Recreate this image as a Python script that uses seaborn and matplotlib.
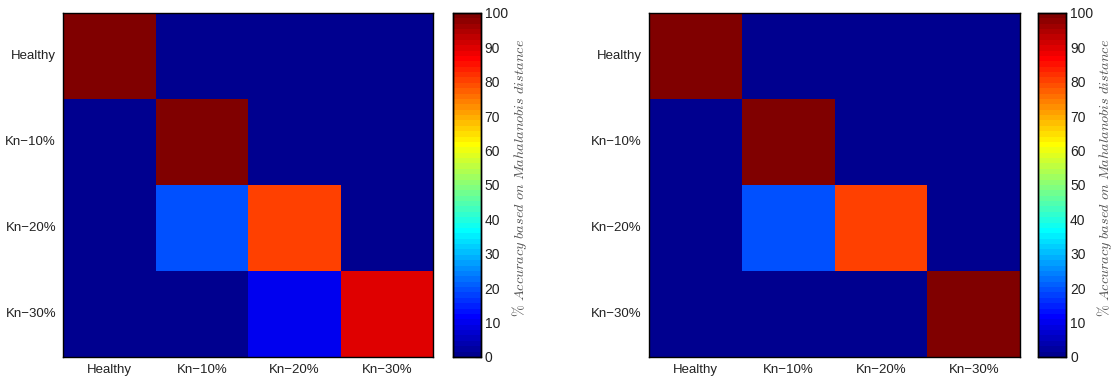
import numpy as np
import pandas as pd
import seaborn as sns
import matplotlib.pyplot as plt
from matplotlib.colors import ListedColormap

# Class labels and accuracy matrices (%)
classes = ['Healthy', 'Kn\u221210%', 'Kn\u221220%', 'Kn\u221230%']
left_acc = [[100, 0, 0, 0],
            [0, 100, 0, 0],
            [0, 20, 80, 0],
            [0, 0, 10, 90]]
right_acc = [[100, 0, 0, 0],
             [0, 100, 0, 0],
             [0, 20, 80, 0],
             [0, 0, 0, 100]]
cbar_ticks = list(range(0, 101, 10))


def matlab_jet(m=64):
    # same construction as MATLAB's jet(m)
    n = int(np.ceil(m / 4))
    u = np.concatenate([np.arange(1, n + 1) / n, np.ones(n - 1),
                        np.arange(n, 0, -1) / n])
    g = int(np.ceil(n / 2)) - (1 if m % 4 == 1 else 0) + np.arange(1, len(u) + 1)
    r = g + n
    b = g - n
    J = np.zeros((m, 3))
    for col, idx in enumerate([r, g, b]):
        ok = (idx >= 1) & (idx <= m)
        J[idx[ok] - 1, col] = u[ok]
    return ListedColormap(J)


sns.set_style('white')
plt.rcParams['font.family'] = ['Liberation Sans', 'DejaVu Sans']
plt.rcParams['mathtext.fontset'] = 'cm'

cmap = matlab_jet(64)
label = r'$\%\ Accuracy\ based\ on\ Mahalanobis\ distance$'

fig = plt.figure(figsize=(11.15, 3.81), dpi=100)
panels = [
    (left_acc, [0.0565, 0.063, 0.332, 0.903], [0.406, 0.063, 0.025, 0.903]),
    (right_acc, [0.582, 0.063, 0.333, 0.903], [0.931, 0.063, 0.025, 0.903]),
]

for acc, ax_pos, cb_pos in panels:
    ax = fig.add_axes(ax_pos)
    cax = fig.add_axes(cb_pos)
    df = pd.DataFrame(acc, index=classes, columns=classes)
    sns.heatmap(df, ax=ax, cbar_ax=cax, cmap=cmap, vmin=0, vmax=100,
                cbar_kws={'ticks': cbar_ticks})
    ax.tick_params(axis='both', direction='in', length=4, width=0.8,
                   labelsize=9.5, labelcolor='#222222', top=True, right=True,
                   bottom=True, left=True, labeltop=False, labelright=False,
                   pad=5)
    ax.set_yticklabels(classes, rotation=0)
    ax.set_xticklabels(classes, rotation=0)
    ax.set_xlabel('')
    ax.set_ylabel('')
    for s in ax.spines.values():
        s.set_visible(True)
        s.set_color('black')
        s.set_linewidth(1.0)

    cax.tick_params(direction='in', length=4, width=0.8, labelsize=10,
                    labelcolor='#222222', right=True, left=False, pad=3)
    for s in cax.spines.values():
        s.set_visible(True)
        s.set_color('black')
        s.set_linewidth(1.0)
    cax.set_ylabel(label, fontsize=10.3, color='#555555')
    cax.yaxis.set_label_coords(2.05, 0.52)

plt.savefig('out.png', dpi=100)
